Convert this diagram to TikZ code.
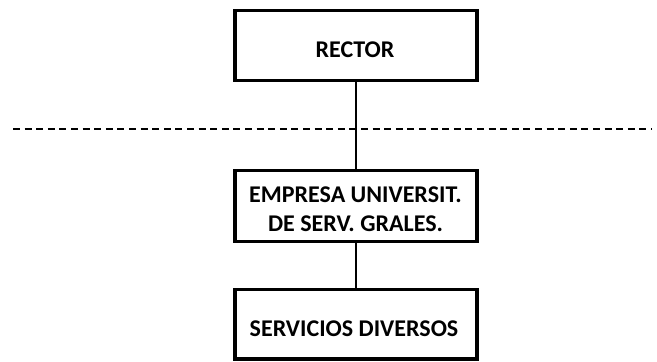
\documentclass[tikz,border=0pt]{standalone}
\usepackage{fontspec}
\setmainfont{Carlito}
\begin{document}
\begin{tikzpicture}[x=1pt,y=-1pt,
  orgbox/.style={draw=black, line width=3.5pt, fill=white, minimum width=241.7pt, inner sep=0pt},
  orgtext/.style={font=\fontsize{24}{29.3}\selectfont\bfseries, align=center, inner sep=0pt, anchor=base},
  conn/.style={draw=black, line width=1.6pt},
  sep/.style={draw=black, line width=2pt, dash pattern=on 7pt off 4.6pt}]
\useasboundingbox (0,0) rectangle (657,362);
\coordinate (dl) at (13,128.5);
\coordinate (dr) at (652,128.5);
\draw[sep] (dl) -- (dr);
\node[orgbox, minimum height=70.2pt] (rector) at (356,45.4) {};
\node[orgbox, minimum height=71pt] (empresa) at (356,205.8) {};
\node[orgbox, minimum height=69.5pt] (servicios) at (356,324.3) {};
\draw[conn] (rector.south) -- (empresa.north);
\draw[conn] (empresa.south) -- (servicios.north);
\node[orgtext] (t1) at (355,57.7) {RECTOR};
\node[orgtext] (t2) at (355.5,202.7) {EMPRESA UNIVERSIT.};
\node[orgtext] (t3) at (355.5,231) {DE SERV. GRALES.};
\node[orgtext] (t4) at (354,336.7) {SERVICIOS DIVERSOS};
\end{tikzpicture}
\end{document}
